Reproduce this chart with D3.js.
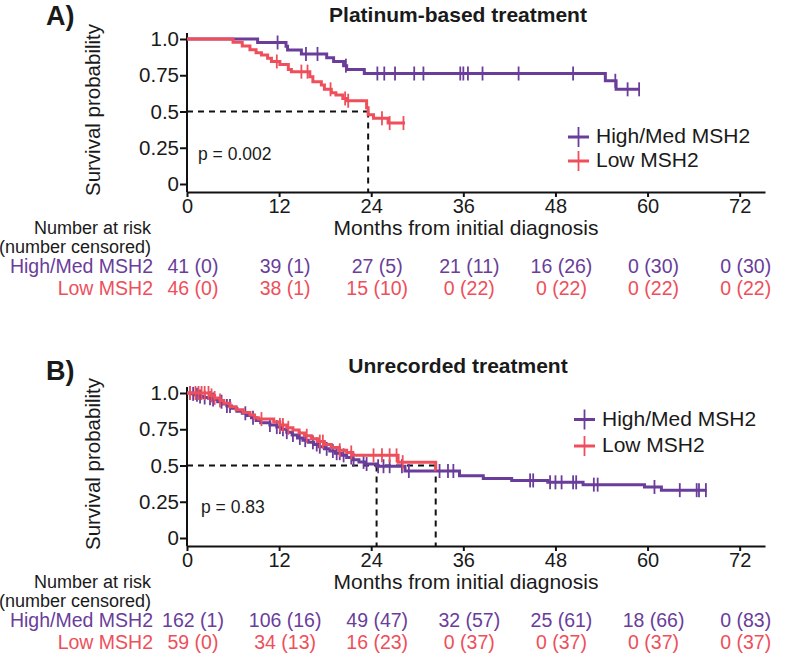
<!DOCTYPE html>
<html>
<head>
<meta charset="utf-8">
<script src="https://cdn.jsdelivr.net/npm/d3@7"></script>
<style>
  body { margin: 0; background: #fff; }
  text { font-family: "Liberation Sans", Arial, sans-serif; fill: #1a1a1a; }
</style>
</head>
<body>
<svg width="800" height="659"></svg>
<script>
"use strict";

// ---- data ----
const monthTicks = [0, 12, 24, 36, 48, 60, 72];
const survTicks = [0, 0.25, 0.5, 0.75, 1];
const survTickLabels = ["0", "0.25", "0.5", "0.75", "1.0"];
const groupNames = ["High/Med MSH2", "Low MSH2"];

// Panel A: platinum-based treatment  [month, survival] at each event
const aHighSteps = [[0,1],[9.2,0.976],[12.9,0.95],[13.1,0.924],[14.9,0.897],[18.2,0.87],[19.1,0.844],
  [20.4,0.816],[20.8,0.79],[23.1,0.762],[54.5,0.712],[55.9,0.653]];
const aHighEnd = 59.0;
const aHighCens = [11.8,15.5,17.0,20.7,24.8,25.7,27.1,29.6,30.8,35.6,36.0,36.6,38.5,43.2,50.3,55.8,57.4,58.9];

const aLowSteps = [[0,1],[6.0,0.977],[7.2,0.952],[8.2,0.926],[9.0,0.906],[9.7,0.889],[10.5,0.867],[11.0,0.845],
  [12.1,0.825],[13.2,0.79],[13.6,0.775],[16.0,0.74],[16.4,0.706],[17.5,0.683],[17.9,0.653],[18.8,0.63],
  [19.4,0.614],[20.3,0.59],[20.9,0.574],[23.4,0.526],[23.6,0.478],[24.3,0.453],[26.2,0.42]];
const aLowEnd = 28.4;
const aLowCens = [11.7,14.9,15.7,18.7,20.6,21.0,25.4,26.4,28.2];

const aMedians = [23.6];
const aRiskHigh = [41, 39, 27, 21, 16, 0, 0];
const aCensHigh = [0, 1, 5, 11, 26, 30, 30];
const aRiskLow = [46, 38, 15, 0, 0, 0, 0];
const aCensLow = [0, 1, 10, 22, 22, 22, 22];

// Panel B: unrecorded treatment
const bHighSteps = [[0,1],[0.5,0.994],[1.0,0.988],[1.6,0.976],[2.2,0.969],[2.8,0.963],[3.4,0.956],[4.0,0.94],
  [4.6,0.925],[5.2,0.91],[5.8,0.895],[6.5,0.875],[7.2,0.86],[7.8,0.845],[8.4,0.83],[9.0,0.81],[9.6,0.795],
  [10.8,0.78],[11.7,0.765],[12.3,0.75],[13.0,0.73],[13.7,0.71],[14.4,0.69],[15.1,0.675],[15.8,0.66],
  [16.5,0.645],[17.2,0.63],[17.9,0.615],[18.6,0.6],[19.3,0.585],[20.1,0.57],[20.8,0.555],[21.6,0.54],
  [22.4,0.525],[23.2,0.51],[24.7,0.495],[28.4,0.462],[35.5,0.43],[38.6,0.41],[42.3,0.397],[47.0,0.384],
  [51.6,0.368],[59.6,0.352],[61.8,0.33]];
const bHighEnd = 67.7;
const bHighCens = [0.4,0.8,1.3,1.7,2.3,3.0,3.4,4.5,5.2,5.6,7.6,8.6,10.8,11.7,12.1,12.5,13.0,13.8,14.7,15.4,
  16.4,16.9,17.3,18.2,19.0,19.5,19.9,20.4,21.4,21.7,23.0,23.4,24.9,25.6,26.4,28.0,28.9,32.9,34.0,34.7,
  44.7,45.1,47.3,48.0,48.8,50.3,50.7,53.0,53.5,60.9,64.2,66.4,66.7,67.6];

const bLowSteps = [[0,1],[3.0,0.983],[3.6,0.966],[4.3,0.948],[4.8,0.93],[5.6,0.905],[6.4,0.885],[7.3,0.865],
  [8.2,0.848],[8.8,0.83],[9.3,0.82],[11.3,0.8],[12.1,0.78],[13.0,0.76],[13.8,0.745],[14.6,0.725],[15.3,0.705],
  [16.2,0.685],[17.0,0.665],[17.9,0.645],[18.8,0.625],[19.8,0.605],[20.8,0.59],[21.6,0.57],[27.5,0.523],[32.4,0.47]];
const bLowEnd = 32.5;
const bLowCens = [0.4,1.1,1.5,1.9,2.3,2.8,3.2,3.6,4.3,9.7,12.1,12.5,13.2,15.6,17.3,17.7,19.9,21.4,24.3,25.4,26.4,27.3,28.1];

const bMedians = [24.7, 32.4];
const bRiskHigh = [162, 106, 49, 32, 25, 18, 0];
const bCensHigh = [1, 16, 47, 57, 61, 66, 83];
const bRiskLow = [59, 34, 16, 0, 0, 0, 0];
const bCensLow = [0, 13, 23, 37, 37, 37, 37];

// ---- drawing ----
const purple = "#6a3d9a", red = "#ee4f5b";
const colors = [purple, red];
const svg = d3.select("svg");

const x = d3.scaleLinear().domain([0, 75.3]).range([187, 765]);
const y = d3.scaleLinear().domain([0, 1]).range([184, 39]);

const stepLine = d3.line()
  .x(d => x(d[0]))
  .y(d => y(d[1]))
  .curve(d3.curveStepAfter);

function survAt(steps, t) {
  let s = 1;
  steps.forEach(d => { if (d[0] <= t) s = d[1]; });
  return s;
}

function drawPanel(p) {
  const g = svg.append("g").attr("transform", "translate(0," + p.dy + ")");

  g.append("text").attr("x", 46).attr("y", p.letterY)
    .attr("font-size", 27).attr("font-weight", "bold").text(p.letter);
  g.append("text").attr("x", 458).attr("y", p.titleY).attr("text-anchor", "middle")
    .attr("font-size", 21).attr("font-weight", "bold").text(p.title);

  // y axis
  const ya = g.append("g").attr("transform", "translate(187,0)")
    .call(d3.axisLeft(y).tickValues(survTicks).tickFormat((d, i) => survTickLabels[i])
      .tickSize(7).tickPadding(1));
  ya.select(".domain").remove();
  ya.append("line").attr("x1", 0).attr("x2", 0).attr("y1", 33).attr("y2", 192);
  ya.selectAll("line").attr("stroke", "#111").attr("stroke-width", 2);
  ya.selectAll("text").attr("font-size", 20.5).attr("fill", "#1a1a1a");
  ya.attr("font-family", null);

  // x axis
  const xa = g.append("g").attr("transform", "translate(0,192)")
    .call(d3.axisBottom(x).tickValues(monthTicks).tickSize(5).tickSizeOuter(0));
  xa.selectAll("path,line").attr("stroke", "#111").attr("stroke-width", 2);
  xa.selectAll("text").attr("font-size", 20).attr("dy", null).attr("y", 20.5)
    .attr("fill", "#1a1a1a");
  xa.attr("font-family", null);

  g.append("text").attr("transform", "translate(100,110) rotate(-90)")
    .attr("text-anchor", "middle").attr("font-size", 20.5).text("Survival probability");
  g.append("text").attr("x", 466).attr("y", 234.5).attr("text-anchor", "middle")
    .attr("font-size", 21).text("Months from initial diagnosis");

  // median guides
  const dash = g.append("g").attr("stroke", "#111").attr("stroke-width", 2)
    .attr("stroke-dasharray", "6,5").attr("fill", "none");
  dash.append("line").attr("x1", x(0)).attr("x2", x(d3.max(p.medians)))
    .attr("y1", y(0.5)).attr("y2", y(0.5));
  p.medians.forEach(m => {
    dash.append("line").attr("x1", x(m)).attr("x2", x(m)).attr("y1", y(0.5)).attr("y2", 192);
  });

  // curves
  p.curves.forEach((c, i) => {
    const pts = c.steps.concat([[c.end, c.steps[c.steps.length - 1][1]]]);
    g.append("path").attr("d", stepLine(pts)).attr("fill", "none")
      .attr("stroke", colors[i]).attr("stroke-width", 3);
    g.append("g").selectAll("line").data(c.cens).enter().append("line")
      .attr("x1", d => x(d)).attr("x2", d => x(d))
      .attr("y1", d => y(survAt(c.steps, d)) - 7)
      .attr("y2", d => y(survAt(c.steps, d)) + 7)
      .attr("stroke", colors[i]).attr("stroke-width", 1.8);
  });

  g.append("text").attr("x", p.pX).attr("y", p.pY).attr("font-size", 17.5).text(p.pText);

  // legend
  groupNames.forEach((name, i) => {
    const ly = p.legY[i];
    g.append("line").attr("x1", p.legX).attr("x2", p.legX + 21).attr("y1", ly).attr("y2", ly)
      .attr("stroke", colors[i]).attr("stroke-width", 3);
    g.append("line").attr("x1", p.legX + 10.5).attr("x2", p.legX + 10.5).attr("y1", ly - 10).attr("y2", ly + 10)
      .attr("stroke", colors[i]).attr("stroke-width", 1.8);
    g.append("text").attr("x", p.legX + 28).attr("y", ly + 6).attr("font-size", 21).text(name);
  });

  // number at risk table
  g.append("text").attr("x", 151).attr("y", 233.5).attr("text-anchor", "end")
    .attr("font-size", 18).text("Number at risk");
  g.append("text").attr("x", 151).attr("y", 253).attr("text-anchor", "end")
    .attr("font-size", 18).text("(number censored)");
  p.risk.forEach((row, i) => {
    const ry = 273 + i * 22;
    g.append("text").attr("x", 153).attr("y", ry).attr("text-anchor", "end")
      .attr("font-size", 19.5).style("fill", colors[i]).text(groupNames[i]);
    g.append("g").selectAll("text").data(monthTicks).enter().append("text")
      .attr("x", d => x(d) + 6).attr("y", ry).attr("text-anchor", "middle")
      .attr("font-size", 19.5).style("fill", colors[i])
      .text((d, j) => row.n[j] + " (" + row.c[j] + ")");
  });
}

drawPanel({
  dy: 0, letter: "A)", letterY: 25, title: "Platinum-based treatment", titleY: 22,
  medians: aMedians, pText: "p = 0.002", pX: 198, pY: 160,
  legX: 568, legY: [137, 161],
  curves: [
    { steps: aHighSteps, end: aHighEnd, cens: aHighCens },
    { steps: aLowSteps, end: aLowEnd, cens: aLowCens }
  ],
  risk: [{ n: aRiskHigh, c: aCensHigh }, { n: aRiskLow, c: aCensLow }]
});

drawPanel({
  dy: 354, letter: "B)", letterY: 26, title: "Unrecorded treatment", titleY: 19,
  medians: bMedians, pText: "p = 0.83", pX: 201, pY: 159,
  legX: 574, legY: [65.5, 92],
  curves: [
    { steps: bHighSteps, end: bHighEnd, cens: bHighCens },
    { steps: bLowSteps, end: bLowEnd, cens: bLowCens }
  ],
  risk: [{ n: bRiskHigh, c: bCensHigh }, { n: bRiskLow, c: bCensLow }]
});
</script>
</body>
</html>
